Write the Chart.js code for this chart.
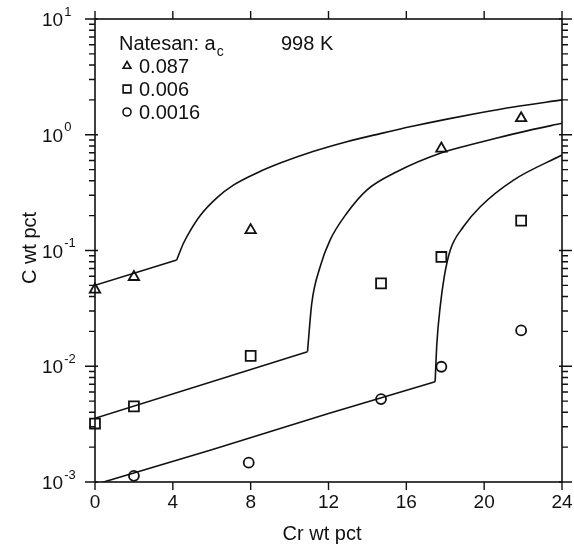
<!DOCTYPE html>
<html>
<head>
<meta charset="utf-8">
<script src="https://cdn.jsdelivr.net/npm/chart.js@4.4.1/dist/chart.umd.min.js"></script>
<style>
  body { margin: 0; background: #fff; }
  #wrap { position: relative; width: 574px; height: 548px; }
</style>
</head>
<body>
<div id="wrap"><canvas id="chart"></canvas></div>
<script>
// Natesan data points (Cr wt pct, C wt pct)
const crTri = [0, 2, 8, 17.8, 21.9];
const cTri = [0.046, 0.059, 0.15, 0.76, 1.39];
const crSq = [0, 2, 8, 14.7, 17.8, 21.9];
const cSq = [0.0032, 0.0045, 0.0123, 0.052, 0.088, 0.181];
const crCirc = [2, 7.9, 14.7, 17.8, 21.9];
const cCirc = [0.00113, 0.00147, 0.0052, 0.0099, 0.0204];

// calculated curves: straight part up to the kink, then the curved part
const crLine1a = [0, 4.2];
const cLine1a = [0.050, 0.0828];
const crLine1b = [4.2, 4.54, 4.89, 5.4, 6.26, 7.11, 8.32, 9.52, 11.2, 12.94, 14.66, 16.37, 18.09, 19.8, 21.51, 24];
const cLine1b = [0.0828, 0.115, 0.148, 0.20, 0.285, 0.367, 0.468, 0.569, 0.716, 0.871, 1.023, 1.189, 1.365, 1.549, 1.738, 2.0];

const crLine2a = [0, 10.92];
const cLine2a = [0.00355, 0.01336];
const crLine2b = [10.92, 11.14, 11.57, 12.08, 12.94, 13.97, 15.51, 17.74, 19.8, 20.66, 22.3, 24];
const cLine2b = [0.01336, 0.035, 0.0724, 0.123, 0.21, 0.333, 0.479, 0.692, 0.861, 0.938, 1.091, 1.256];

const crLine3a = [0, 6, 12, 17.48];
const cLine3a = [0.00095, 0.0019, 0.0039, 0.00736];
const crLine3b = [17.48, 17.57, 17.74, 17.95, 18.26, 18.94, 19.8, 21.51, 24];
const cLine3b = [0.00736, 0.0158, 0.0327, 0.0594, 0.101, 0.161, 0.239, 0.406, 0.668];

const xTicks = [0, 4, 8, 12, 16, 20, 24];
const xTickLabels = ['0', '4', '8', '12', '16', '20', '24'];
const yDecades = [-3, -2, -1, 0, 1];

const legendLabels = ['0.087', '0.006', '0.0016'];
const legendStyles = ['triangle', 'rect', 'circle'];

function pts(xs, ys) {
    return xs.map((x, i) => ({ x: x, y: ys[i] }));
}

const FONT = '"Liberation Sans", Arial, sans-serif';
const INK = '#111';

function curve(xs, ys, smooth) {
    return {
        type: 'line',
        data: pts(xs, ys),
        borderColor: INK,
        borderWidth: 1.6,
        pointRadius: 0,
        tension: 0,
        cubicInterpolationMode: smooth ? 'monotone' : 'default'
    };
}

function markers(xs, ys, style, r) {
    return {
        type: 'scatter',
        data: pts(xs, ys),
        pointStyle: style,
        pointRadius: r,
        pointBorderWidth: 1.8,
        pointBorderColor: INK,
        pointBackgroundColor: 'rgba(255,255,255,0)',
        clip: false
    };
}

// axes frame, ticks, labels, annotation drawn over the chart
const axesPlugin = {
    id: 'axesPlugin',
    afterDraw(chart) {
        const ctx = chart.ctx;
        const a = chart.chartArea;
        const xs = chart.scales.x;
        const ys = chart.scales.y;
        ctx.save();
        ctx.strokeStyle = INK;
        ctx.fillStyle = INK;
        ctx.lineWidth = 1.6;
        ctx.strokeRect(a.left, a.top, a.right - a.left, a.bottom - a.top);

        // x ticks, all pointing outwards
        ctx.lineWidth = 1.4;
        ctx.font = '19px ' + FONT;
        ctx.textAlign = 'center';
        ctx.textBaseline = 'middle';
        xTicks.forEach((v, i) => {
            const px = xs.getPixelForValue(v);
            ctx.beginPath();
            ctx.moveTo(px, a.bottom);
            ctx.lineTo(px, a.bottom + 8);
            ctx.moveTo(px, a.top);
            ctx.lineTo(px, a.top - 8);
            ctx.stroke();
            ctx.fillText(xTickLabels[i], px, 503);
        });

        // y ticks on log axis, major and minor, left and right
        yDecades.forEach(d => {
            for (let m = 1; m <= 9; m++) {
                if (d === 1 && m > 1) break;
                const py = ys.getPixelForValue(m * Math.pow(10, d));
                const len = m === 1 ? 10 : 6;
                const inner = m === 1 ? 3 : 0;
                ctx.beginPath();
                ctx.moveTo(a.left + inner, py);
                ctx.lineTo(a.left - len, py);
                ctx.moveTo(a.right - inner, py);
                ctx.lineTo(a.right + len, py);
                ctx.stroke();
            }
            const py = ys.getPixelForValue(Math.pow(10, d));
            ctx.textAlign = 'left';
            ctx.font = '19px ' + FONT;
            ctx.fillText('10', 42, py + 2);
            const w = ctx.measureText('10').width;
            ctx.font = '13px ' + FONT;
            ctx.fillText(d < 0 ? '-' + (-d) : String(d), 42 + w + 1, py - 7);
        });

        // axis titles
        ctx.font = '20px ' + FONT;
        ctx.textAlign = 'center';
        ctx.fillText('Cr wt pct', 322, 534);
        ctx.save();
        ctx.translate(30, 248);
        ctx.rotate(-Math.PI / 2);
        ctx.fillText('C wt pct', 0, 0);
        ctx.restore();

        // annotation and legend
        ctx.textAlign = 'left';
        ctx.textBaseline = 'alphabetic';
        ctx.font = '20px ' + FONT;
        ctx.fillText('Natesan: a', 119, 50);
        const nw = ctx.measureText('Natesan: a').width;
        ctx.fillText('998 K', 281, 50);
        ctx.font = '14px ' + FONT;
        ctx.fillText('c', 119 + nw + 1, 56);
        ctx.font = '20px ' + FONT;
        legendLabels.forEach((t, i) => {
            const by = 73 + i * 23;
            ctx.fillStyle = INK;
            ctx.fillText(t, 139, by);
            ctx.lineWidth = 1.6;
            ctx.fillStyle = 'rgba(255,255,255,0)';
            const r = legendStyles[i] === 'triangle' ? 4.5 : (legendStyles[i] === 'rect' ? 5.5 : 4);
            Chart.helpers.drawPoint(ctx, { pointStyle: legendStyles[i], radius: r, borderWidth: 1.6 }, 127, by - 7);
        });
        ctx.restore();
    }
};

new Chart(document.getElementById('chart'), {
    data: {
        datasets: [
            curve(crLine1a, cLine1a, false),
            curve(crLine1b, cLine1b, true),
            curve(crLine2a, cLine2a, false),
            curve(crLine2b, cLine2b, true),
            curve(crLine3a, cLine3a, false),
            curve(crLine3b, cLine3b, true),
            markers(crTri, cTri, 'triangle', 6),
            markers(crSq, cSq, 'rect', 7),
            markers(crCirc, cCirc, 'circle', 5)
        ]
    },
    options: {
        responsive: true,
        maintainAspectRatio: false,
        animation: false,
        events: [],
        layout: { padding: { left: 95, right: 12, top: 19, bottom: 66 } },
        scales: {
            x: { type: 'linear', min: 0, max: 24, display: false },
            y: { type: 'logarithmic', min: 0.001, max: 10, display: false }
        },
        plugins: {
            legend: { display: false },
            tooltip: { enabled: false }
        }
    },
    plugins: [axesPlugin]
});
</script>
</body>
</html>
